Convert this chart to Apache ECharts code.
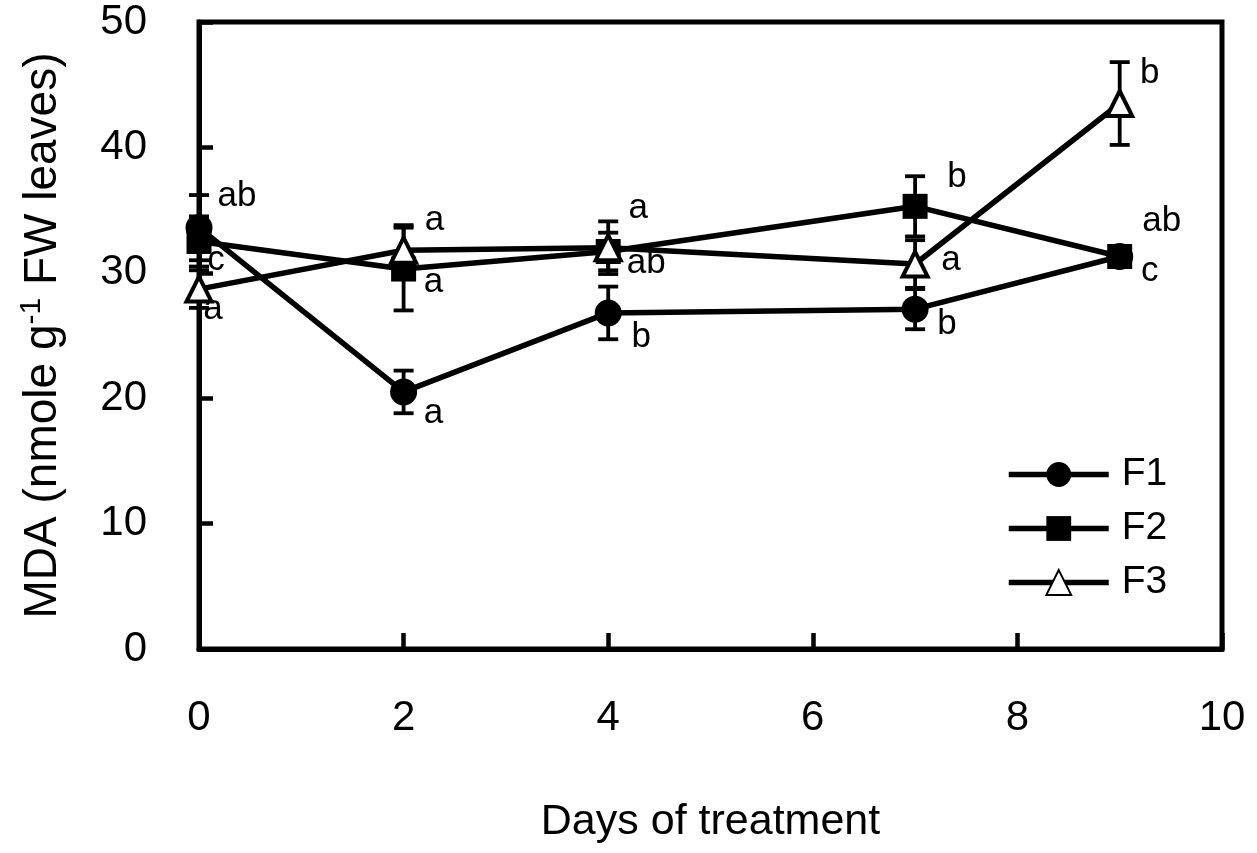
<!DOCTYPE html>
<html>
<head>
<meta charset="utf-8">
<script src="https://cdn.jsdelivr.net/npm/echarts@6/dist/echarts.min.js"></script>
<style>html,body{margin:0;padding:0;background:#fff}#c{width:1257px;height:853px}</style>
</head>
<body>
<div id="c"></div>
<script>
// ---- data ----
const days = [0, 2, 4, 7, 9];
const seriesNames = ['F1', 'F2', 'F3'];
const f1Values = [33.6, 20.5, 26.8, 27.1, 31.3];
const f2Values = [32.5, 30.3, 31.7, 35.3, 31.3];
const f3Values = [28.7, 31.8, 32.0, 30.7, 43.5];
const f1Err = [2.6, 1.7, 2.1, 1.6, 0.4];
const f2Err = [2.0, 3.3, 1.5, 2.4, 0.4];
const f3Err = [1.5, 2.0, 2.1, 1.9, 3.3];
const f1Letters = ['ab', 'a', 'b', 'b', 'c'];
const f2Letters = ['c', 'a', 'ab', 'b', 'ab'];
const f3Letters = ['a', 'a', 'a', 'a', 'b'];
const xTicks = [0, 2, 4, 6, 8, 10];
const yTicks = [0, 10, 20, 30, 40, 50];

// label offsets (pixels, relative to marker centre)
const f1Off = [[38,-31],[30,21],[33,24],[32,15],[30,15]];
const f2Off = [[17,19],[30,13],[38,12],[42,-29],[42,-35]];
const f3Off = [[14,20],[31,-30],[30,-39],[36,-4],[30,-30]];

const FONT = 'Liberation Sans, Arial, sans-serif';
const chart = echarts.init(document.getElementById('c'));

function mkData(vals, letters, offs) {
  return vals.map((v, i) => ({
    value: [days[i], v],
    label: { show: true, formatter: letters[i], position: 'inside', offset: offs[i],
      align: 'center', verticalAlign: 'middle', color: '#000', fontSize: 35, fontFamily: FONT }
  }));
}
function errData(vals, errs) {
  return vals.map((v, i) => [days[i], v - errs[i], v + errs[i]]);
}
function errSeries(vals, errs) {
  return {
    type: 'custom', z: 1, silent: true,
    data: errData(vals, errs),
    renderItem: function (params, api) {
      const x = api.value(0);
      const lo = api.coord([x, api.value(1)]);
      const hi = api.coord([x, api.value(2)]);
      const w = 10;
      const st = { stroke: '#000', lineWidth: 3.8 };
      return { type: 'group', children: [
        { type: 'line', shape: { x1: lo[0], y1: lo[1], x2: hi[0], y2: hi[1] }, style: st },
        { type: 'line', shape: { x1: lo[0] - w, y1: lo[1], x2: lo[0] + w, y2: lo[1] }, style: st },
        { type: 'line', shape: { x1: hi[0] - w, y1: hi[1], x2: hi[0] + w, y2: hi[1] }, style: st }
      ]};
    },
    clip: false
  };
}

const lineStyle = { color: '#000', width: 5.5 };
chart.setOption({
  animation: false,
  backgroundColor: '#fff',
  grid: { left: 199, right: 35, top: 22, bottom: 204, show: true, borderColor: '#000', borderWidth: 5 },
  legend: {
    orient: 'vertical', left: 1001, top: 450, itemWidth: 100, itemHeight: 31, itemGap: 15,
    data: seriesNames,
    lineStyle: { width: 5.5 },
    textStyle: { fontSize: 39, fontFamily: FONT, color: '#000', padding: [0,0,0,8] }
  },
  xAxis: {
    type: 'value', min: xTicks[0], max: xTicks[xTicks.length - 1], interval: 2,
    name: 'Days of treatment', nameLocation: 'middle', nameGap: 152,
    nameTextStyle: { fontSize: 43, fontFamily: FONT, color: '#000' },
    axisLine: { lineStyle: { color: '#000', width: 5 } },
    axisTick: { inside: true, length: 16, lineStyle: { color: '#000', width: 4.5 } },
    axisLabel: { fontSize: 42, fontFamily: FONT, color: '#000', margin: 48 },
    splitLine: { show: false }
  },
  yAxis: {
    type: 'value', min: yTicks[0], max: yTicks[yTicks.length - 1], interval: 10,
    name: 'MDA (nmole g{sup|-1} FW leaves)', nameLocation: 'middle', nameGap: 130,
    nameTextStyle: { fontSize: 46, fontFamily: FONT, color: '#000',
      rich: { sup: { fontSize: 30, fontFamily: FONT, color: '#000', verticalAlign: 'top', padding: [0,0,22,0] } } },
    axisLine: { lineStyle: { color: '#000', width: 5 } },
    axisTick: { inside: true, length: 14, lineStyle: { color: '#000', width: 4.5 } },
    axisLabel: { fontSize: 42, fontFamily: FONT, color: '#000', margin: 52 },
    splitLine: { show: false }
  },
  series: [
    errSeries(f1Values, f1Err),
    errSeries(f2Values, f2Err),
    errSeries(f3Values, f3Err),
    { name: 'F1', type: 'line', z: 3, clip: false, symbol: 'circle', symbolSize: 27,
      itemStyle: { color: '#000' }, lineStyle: lineStyle, data: mkData(f1Values, f1Letters, f1Off) },
    { name: 'F2', type: 'line', z: 3, clip: false, symbol: 'rect', symbolSize: 25,
      itemStyle: { color: '#000' }, lineStyle: lineStyle, data: mkData(f2Values, f2Letters, f2Off) },
    { name: 'F3', type: 'line', z: 4, clip: false, symbol: 'triangle', symbolSize: 25,
      itemStyle: { color: '#fff', borderColor: '#000', borderWidth: 4 }, lineStyle: lineStyle,
      data: mkData(f3Values, f3Letters, f3Off) }
  ]
});
</script>
</body>
</html>
